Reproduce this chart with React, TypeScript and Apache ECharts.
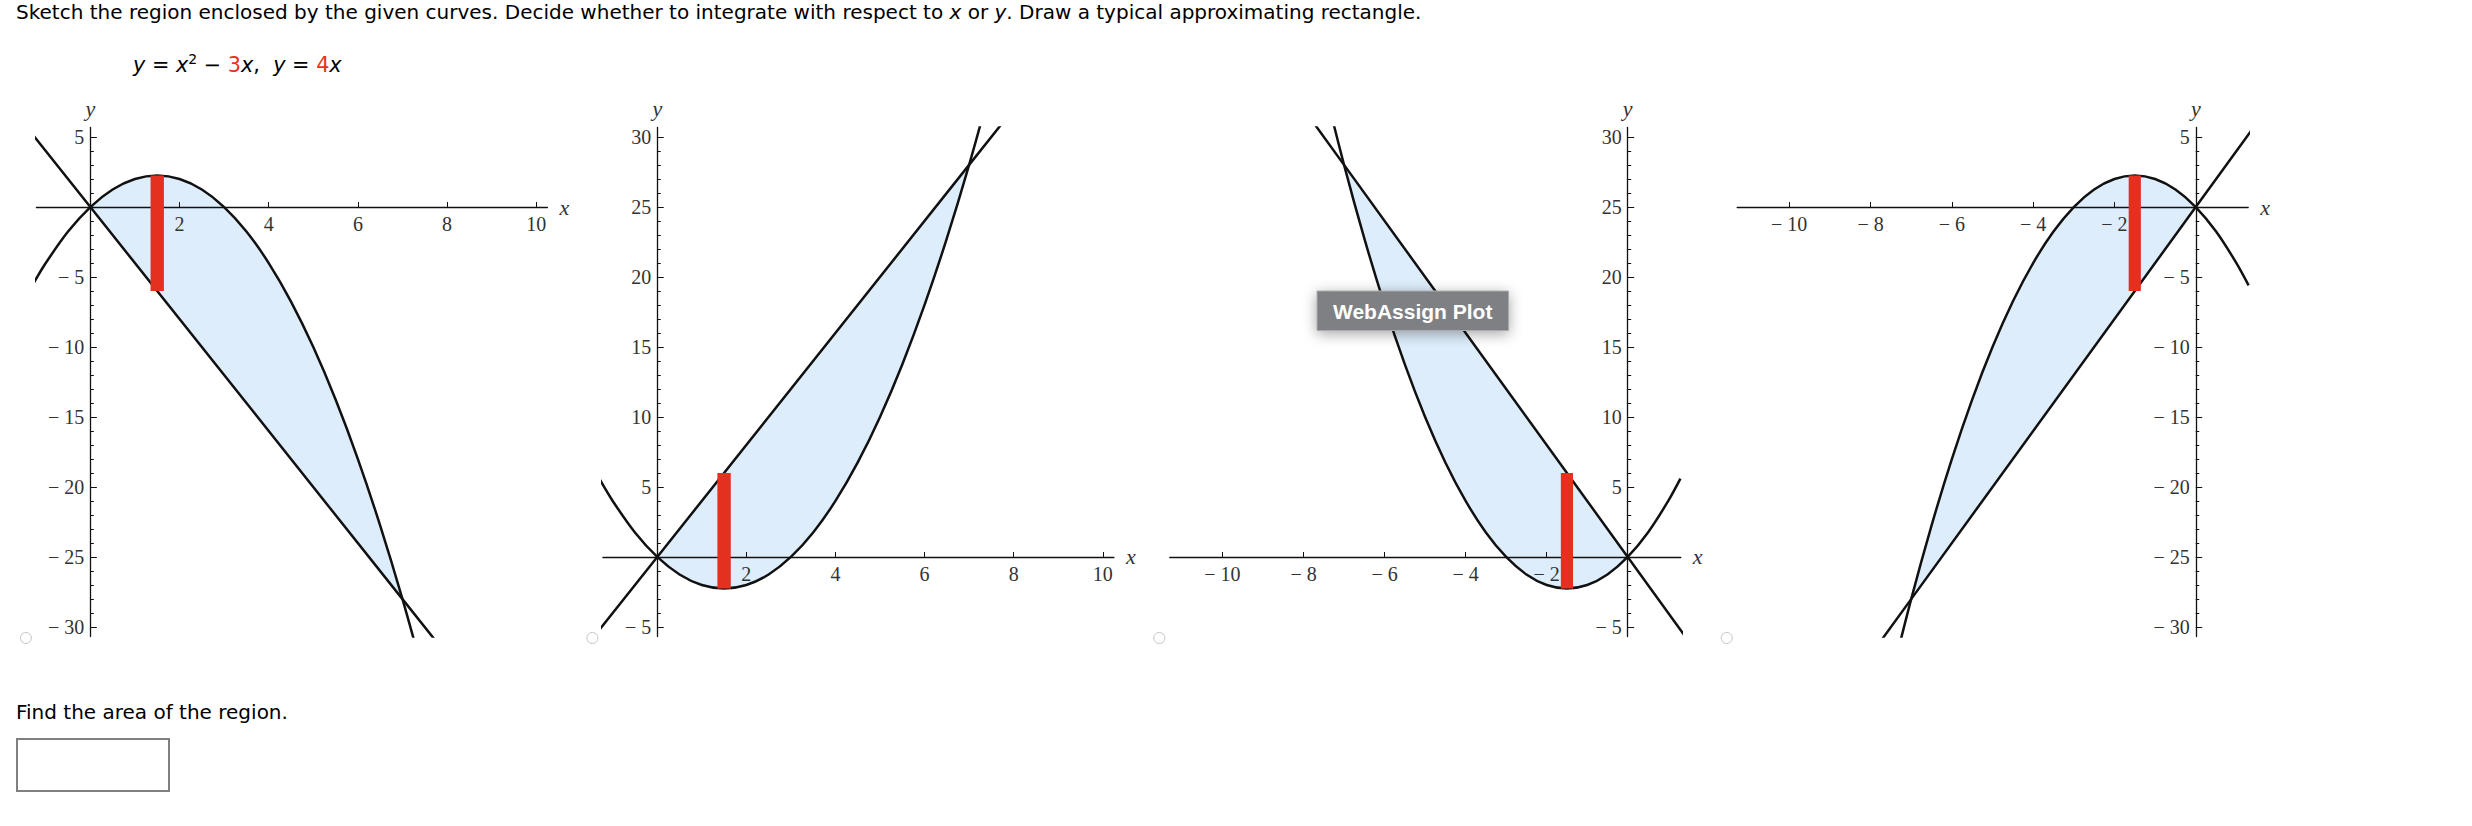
import React, { useEffect, useRef } from 'react';
import * as echarts from 'echarts';

// ---- data (panel 2 is y = x^2 - 3x, y = 4x; the others are its mirror images) ----
const PARABOLA_X = [-1.3, -1, -0.5, 0, 0.5, 1, 1.5, 2, 2.5, 3, 3.5, 4, 4.5, 5, 5.5, 6, 6.5, 7, 7.5];
const PARABOLA_Y = [5.59, 4, 1.75, 0, -1.25, -2, -2.25, -2, -1.25, 0, 1.75, 4, 6.75, 10, 13.75, 18, 22.75, 28, 33.75];
const LINE_X = [-1.5, 0, 7, 8];
const LINE_Y = [-6, 0, 28, 32];
const REGION_X = [0, 7];
const RECT_X = [1.35, 1.65];
const RECT_Y = [-2.25, 6];

// panel mirror signs (x, y)
const PANEL_SX = [1, 1, -1, -1];
const PANEL_SY = [-1, 1, 1, -1];

const X_RANGES = [[-1.21, 10.25], [-1.22, 10.25], [-11.3, 1.31], [-11.28, 1.29]];
const Y_RANGES = [[-30.67, 5.68], [-5.68, 30.67], [-5.68, 30.67], [-30.67, 5.68]];
const X_TICKS_RIGHT = [2, 4, 6, 8, 10];
const X_TICKS_LEFT = [-10, -8, -6, -4, -2];
const Y_MAJOR_UP = [-5, 5, 10, 15, 20, 25, 30];
const Y_MAJOR_DOWN = [-30, -25, -20, -15, -10, -5, 5];

const TITLE = 'Sketch the region enclosed by the given curves. Decide whether to integrate with respect to {i|x} or {i|y}. Draw a typical approximating rectangle.';
const EQUATION = '{i|y} = {i|x}{s|2} \u2212 {r|3}{i|x},  {i|y} = {r|4}{i|x}';
const QUESTION = 'Find the area of the region.';
const OVERLAY = 'WebAssign Plot';

// ---- layout / style ----
const PANEL_LEFT = [36.4, 602.9, 1169.8, 1737.2];
const GRID_TOP = 127.5;
const GRID_W = 511;
const GRID_H = 509;
const FILL = '#ddedfb';
const RED = '#e3301f';
const INK = '#111';
const LABEL = '#333';
const SERIF = 'Liberation Serif';
const TICK_FONT = 20;

const fmt = (v: number) => (v < 0 ? '\u2212 ' + Math.abs(v) : String(v));

function buildOption() {
  const grid: any[] = [];
  const xAxis: any[] = [];
  const yAxis: any[] = [];
  const series: any[] = [];
  const graphic: any[] = [];

  for (let i = 0; i < 4; i++) {
    const sx = PANEL_SX[i];
    const sy = PANEL_SY[i];
    const [xmin, xmax] = X_RANGES[i];
    const [ymin, ymax] = Y_RANGES[i];
    const xt = sx > 0 ? X_TICKS_RIGHT : X_TICKS_LEFT;
    const ym = sy > 0 ? Y_MAJOR_UP : Y_MAJOR_DOWN;
    const yMinor: number[] = [];
    for (let v = Math.ceil(ymin); v <= Math.floor(ymax); v++) {
      if (v % 5 !== 0) yMinor.push(v);
    }
    // place the axes through the origin: shift them in from the grid edges
    const xShift = ((0 - xmin) / (xmax - xmin)) * GRID_W;
    const yShift = ((0 - ymin) / (ymax - ymin)) * GRID_H;

    grid.push({ left: PANEL_LEFT[i], top: GRID_TOP, width: GRID_W, height: GRID_H, containLabel: false, outerBoundsMode: 'none' });

    const lineStyle = { color: INK, width: 1.3 };
    xAxis.push({
      type: 'value', gridIndex: i, min: xmin, max: xmax, position: 'bottom', offset: -yShift, z: 2,
      axisLine: { show: true, onZero: false, lineStyle },
      axisTick: { show: true, inside: true, length: 5, customValues: xt, lineStyle: { color: INK, width: 1 } },
      axisLabel: { show: true, customValues: xt, margin: 7, formatter: fmt, color: LABEL, fontFamily: SERIF, fontSize: TICK_FONT },
      splitLine: { show: false }, minorTick: { show: false },
      name: 'x', nameLocation: 'end', nameGap: 12,
      nameTextStyle: { fontFamily: SERIF, fontStyle: 'italic', fontSize: 22, color: LABEL },
    });
    yAxis.push({
      type: 'value', gridIndex: i, min: ymin, max: ymax, position: 'left', offset: -xShift, z: 2,
      axisLine: { show: true, onZero: false, lineStyle },
      axisTick: { show: true, inside: true, length: 6.5, customValues: ym, lineStyle: { color: INK, width: 1 } },
      axisLabel: { show: true, customValues: ym, margin: 6, formatter: fmt, color: LABEL, fontFamily: SERIF, fontSize: TICK_FONT },
      splitLine: { show: false },
      name: 'y', nameLocation: 'end', nameGap: 8,
      nameTextStyle: { fontFamily: SERIF, fontStyle: 'italic', fontSize: 22, color: LABEL, align: 'center' },
    });
    yAxis.push({
      type: 'value', gridIndex: i, min: ymin, max: ymax, position: 'left', offset: -xShift, z: 2,
      axisLine: { show: false, onZero: false },
      axisTick: { show: true, inside: true, length: 3.5, customValues: yMinor, lineStyle: { color: INK, width: 1 } },
      axisLabel: { show: false },
      splitLine: { show: false },
    });

    const parab = PARABOLA_X.map((x, k) => [sx * x, sy * PARABOLA_Y[k]]);
    const line = LINE_X.map((x, k) => [sx * x, sy * LINE_Y[k]]);
    const upper = LINE_X.map((x, k) => [x, LINE_Y[k]]).filter(p => p[0] >= REGION_X[0] && p[0] <= REGION_X[1]);
    const lower = PARABOLA_X.map((x, k) => [x, PARABOLA_Y[k]]).filter(p => p[0] >= REGION_X[0] && p[0] <= REGION_X[1]).reverse();
    const region = upper.concat(lower).map(p => [sx * p[0], sy * p[1]]);

    series.push({
      type: 'custom', xAxisIndex: i, yAxisIndex: 2 * i, z: 1, silent: true,
      data: [[0, 0]],
      renderItem: (_p: any, api: any) => ({
        type: 'polygon',
        shape: { points: region.map(pt => api.coord(pt)) },
        style: { fill: FILL },
      }),
    });
    series.push({
      type: 'line', xAxisIndex: i, yAxisIndex: 2 * i, z: 3, data: parab, showSymbol: false, smooth: 0.33,
      lineStyle: { color: INK, width: 2.5 }, clip: true, silent: true,
    });
    series.push({
      type: 'line', xAxisIndex: i, yAxisIndex: 2 * i, z: 3, data: line, showSymbol: false,
      lineStyle: { color: INK, width: 2.5 }, clip: true, silent: true,
    });
    series.push({
      type: 'custom', xAxisIndex: i, yAxisIndex: 2 * i, z: 4, silent: true,
      data: [[sx * RECT_X[0], sx * RECT_X[1], sy * RECT_Y[0], sy * RECT_Y[1]]],
      encode: { x: [0, 1], y: [2, 3] },
      renderItem: (_p: any, api: any) => {
        const a = api.coord([api.value(0), api.value(2)]);
        const b = api.coord([api.value(1), api.value(3)]);
        return {
          type: 'rect',
          shape: { x: Math.min(a[0], b[0]), y: Math.min(a[1], b[1]), width: Math.abs(b[0] - a[0]), height: Math.abs(b[1] - a[1]) },
          style: { fill: RED },
        };
      },
    });

    graphic.push({
      type: 'circle', x: PANEL_LEFT[i] - 10.5, y: 638, shape: { cx: 0, cy: 0, r: 5.5 },
      style: { fill: '#fff', stroke: '#c4c4c4', lineWidth: 1 },
    });
  }

  graphic.push({
    type: 'text', x: 16, y: 0,
    style: {
      text: TITLE, fontFamily: 'DejaVu Sans', fontSize: 20, lineHeight: 24, fill: '#000', verticalAlign: 'top',
      rich: { i: { fontFamily: 'DejaVu Sans', fontStyle: 'italic', fontSize: 20, lineHeight: 24 } },
    },
  });
  graphic.push({
    type: 'text', x: 133, y: 52,
    style: {
      text: EQUATION, fontFamily: 'DejaVu Sans', fontSize: 20.8, lineHeight: 26, fill: '#000', verticalAlign: 'top',
      rich: {
        i: { fontFamily: 'DejaVu Sans', fontStyle: 'italic', fontSize: 20.8, lineHeight: 26 },
        s: { fontFamily: 'DejaVu Sans', fontSize: 14, lineHeight: 10, verticalAlign: 'top' },
        r: { fontFamily: 'DejaVu Sans', fontSize: 20.8, lineHeight: 26, fill: '#e8321e' },
      },
    },
  });
  graphic.push({
    type: 'text', x: 16, y: 699.5,
    style: { text: QUESTION, fontFamily: 'DejaVu Sans', fontSize: 20, lineHeight: 24, fill: '#000', verticalAlign: 'top' },
  });
  graphic.push({
    type: 'rect', x: 17, y: 739, shape: { x: 0, y: 0, width: 152, height: 52 },
    style: { fill: '#fff', stroke: '#808080', lineWidth: 2 },
  });
  graphic.push({
    type: 'rect', x: 1317, y: 291, z: 100, shape: { x: 0, y: 0, width: 191.5, height: 39.5 },
    style: { fill: '#7e8083', stroke: '#a9abad', lineWidth: 1, shadowBlur: 14, shadowColor: 'rgba(0,0,0,0.35)', shadowOffsetY: 3 },
  });
  graphic.push({
    type: 'text', x: 1412.7, y: 311, z: 101,
    style: { text: OVERLAY, fontFamily: 'Liberation Sans', fontWeight: 'bold', fontSize: 21, fill: '#fff', align: 'center', verticalAlign: 'middle' },
  });

  return {
    animation: false,
    backgroundColor: '#fff',
    textStyle: { fontFamily: SERIF },
    grid, xAxis, yAxis, series, graphic,
  };
}

export default function App() {
  const ref = useRef<HTMLDivElement>(null);
  useEffect(() => {
    const chart = echarts.init(ref.current!, null, { renderer: 'svg' });
    chart.setOption(buildOption() as any);
    return () => chart.dispose();
  }, []);
  return <div ref={ref} style={{ position: 'absolute', left: 0, top: 0, width: 2472, height: 826, background: '#fff' }} />;
}
